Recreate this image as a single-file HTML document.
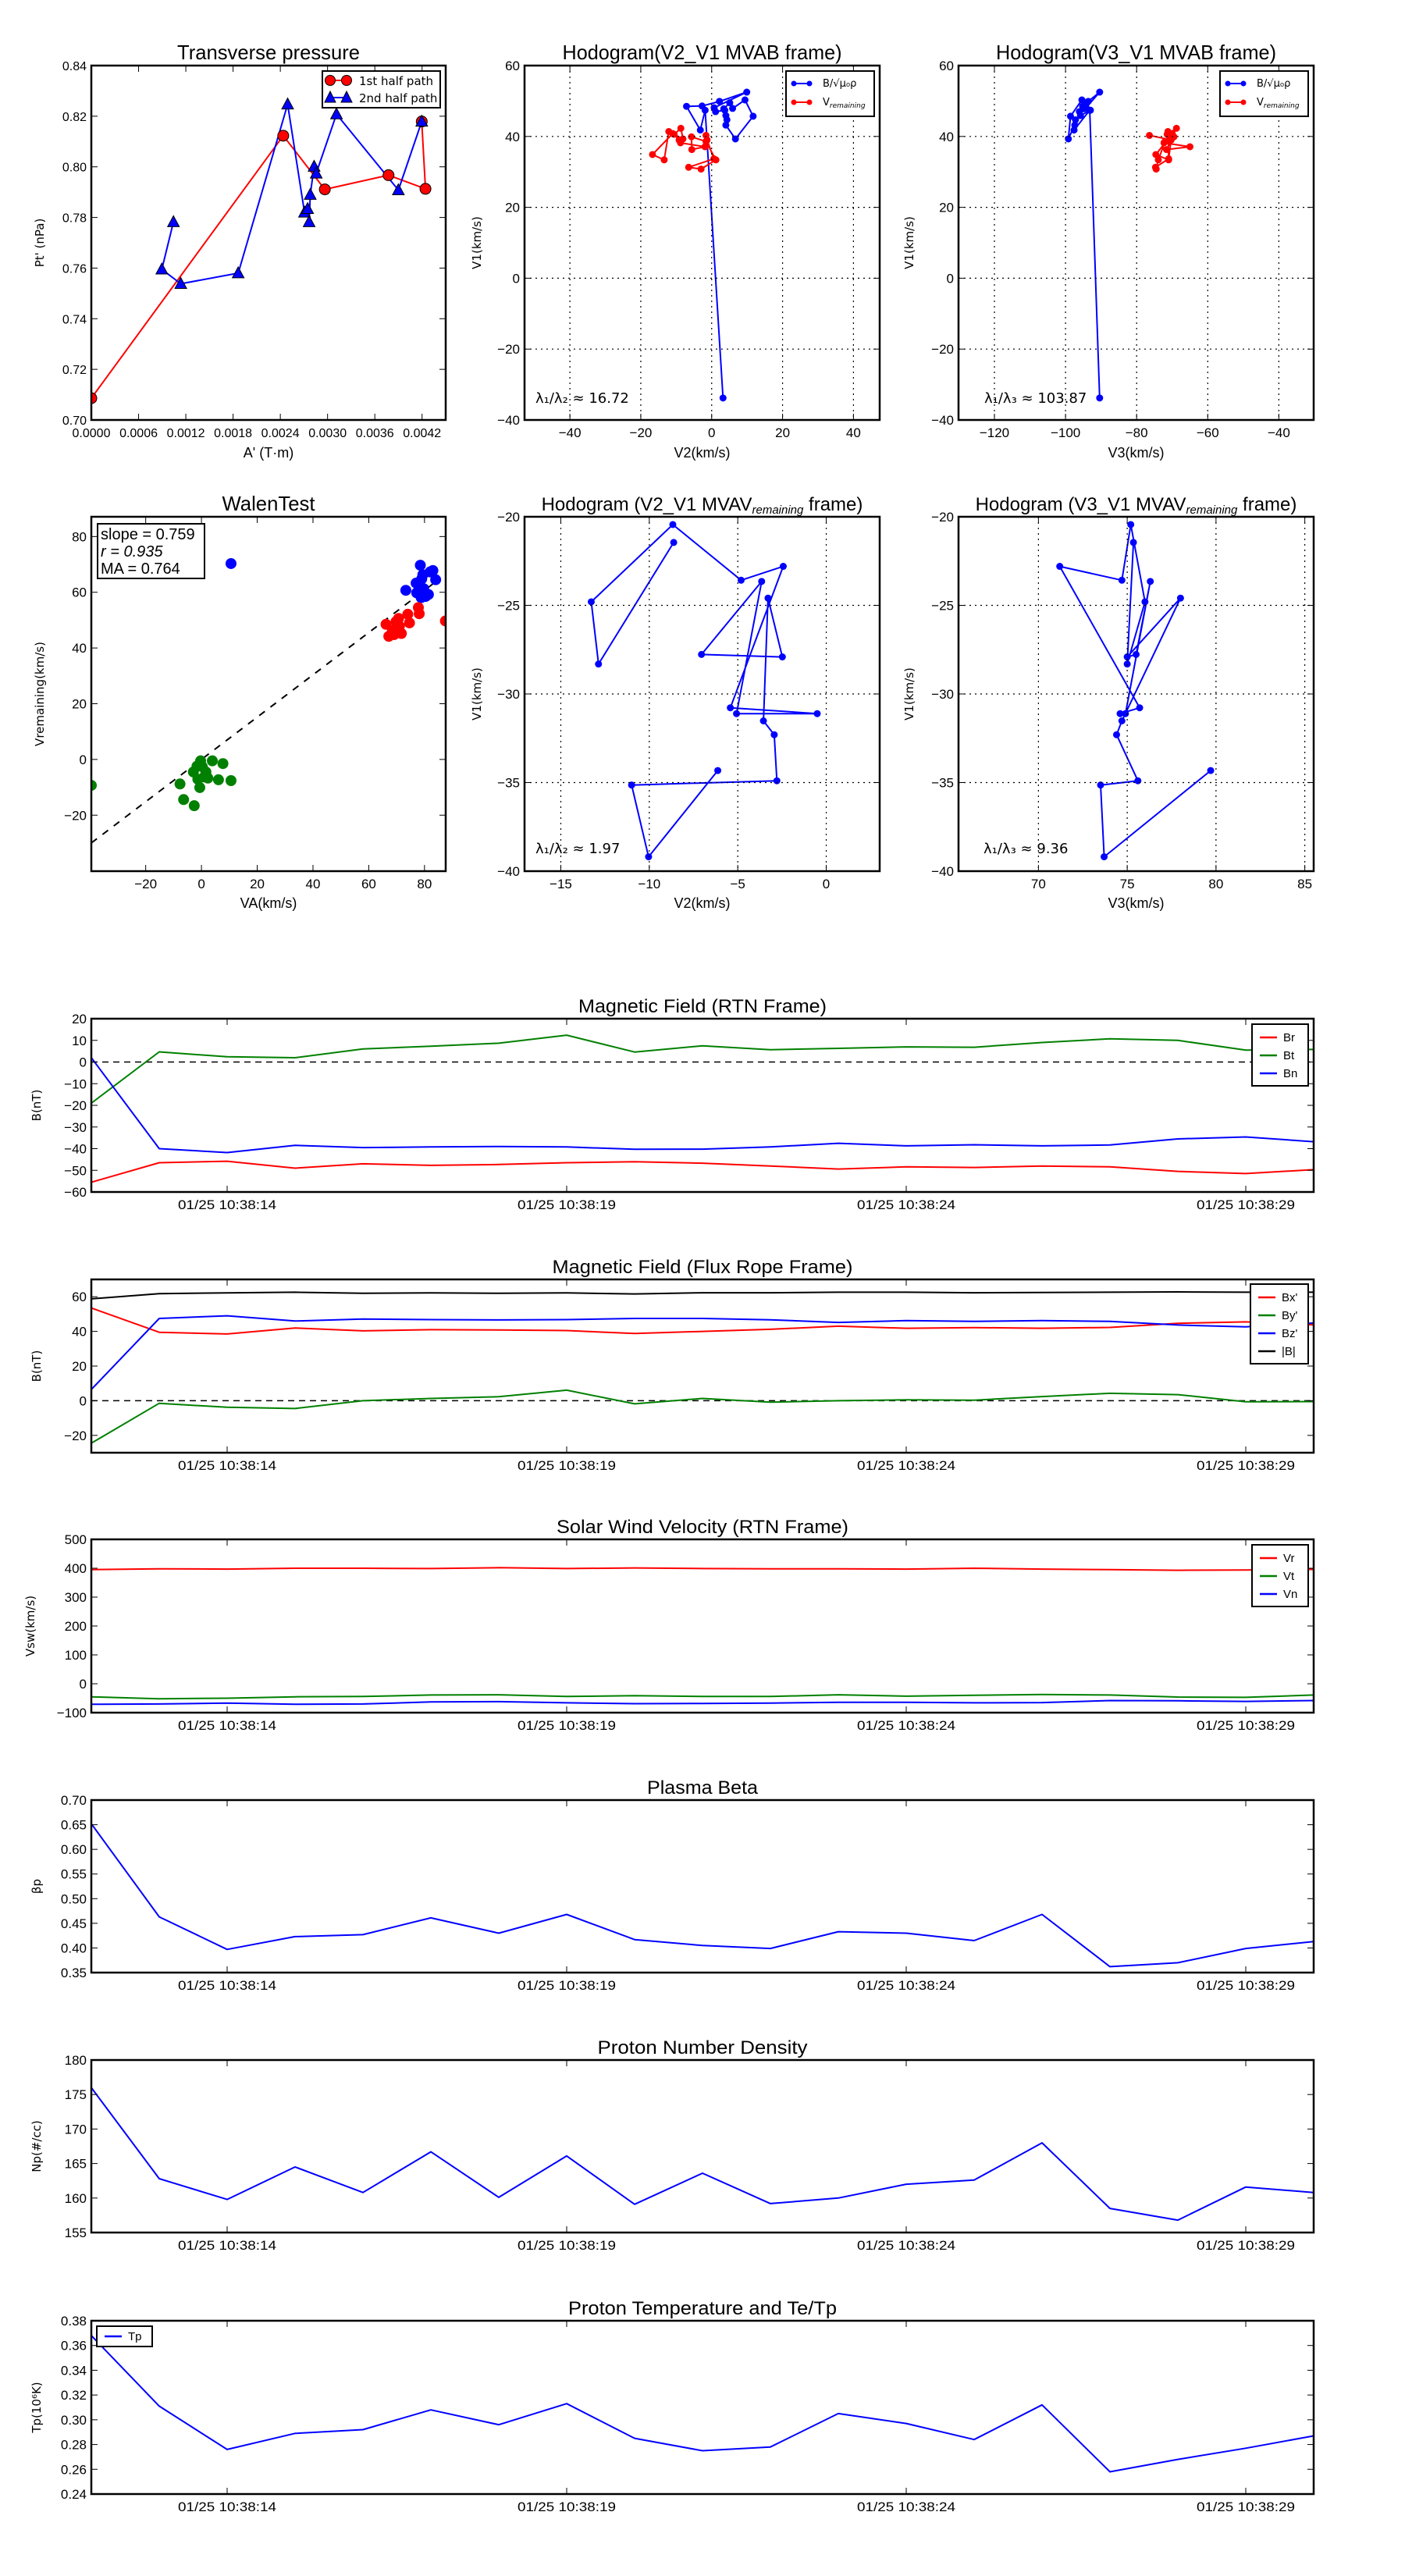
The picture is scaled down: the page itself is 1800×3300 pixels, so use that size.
<!DOCTYPE html>
<html><head><meta charset="utf-8"><title>Flux rope analysis</title>
<style>
html,body{margin:0;padding:0;background:#fff;}
svg{display:block;}
.t{font-family:"Liberation Sans Narrow","Liberation Sans",sans-serif;fill:#000;}
.d{font-family:"DejaVu Sans","Liberation Sans",sans-serif;fill:#000;}
</style></head>
<body>
<svg id="fig" width="1800" height="3300" viewBox="0 0 1800 3300" xmlns="http://www.w3.org/2000/svg"></svg>
<script>
// ---- data: transverse pressure ----
const tpRedA=[0,0.002437,0.002965,0.003774,0.004243,0.004196];
const tpRedP=[0.7086,0.8123,0.7911,0.7967,0.7913,0.8179];
const tpBlueA=[0.001043,0.000895,0.001136,0.001865,0.002493,0.002707,0.002747,0.002766,0.00278,0.002829,0.002856,0.003113,0.003899,0.004196];
const tpBlueP=[0.7782,0.7595,0.7538,0.7580,0.8247,0.7820,0.7834,0.7782,0.7890,0.8001,0.7974,0.8208,0.7908,0.8179];
// ---- hodogram MVAB ----
const hbV1=[-33.8,47.4,41.8,48.5,48.6,49.9,52.5,48.1,47.0,47.4,45.9,44.7,43.2,39.3,45.7,50.3,47.9,49.5,47.8];
const hbV2=[3.2,-1.85,-3.2,-7.1,-2.7,2.2,9.9,0.7,1.1,3.7,4.0,4.3,4.0,6.7,11.7,9.4,5.9,5.1,3.4];
const hbV3=[-90.4,-93.2,-97.6,-95.2,-94.7,-93.6,-90.4,-94.2,-96.1,-93.0,-95.8,-97.2,-97.4,-99.2,-98.6,-95.4,-94.5,-94.0,-95.0];
const hrV1=[40.3,39.0,33.7,31.3,30.8,33.4,38.6,39.9,36.3,37.1,38.2,39.0,40.6,42.3,39.3,41.4,33.4,34.9,40.8];
const hrV2=[-1.6,-1.3,0.6,-6.5,-3.0,1.2,-1.6,-5.7,-5.6,-1.9,-8.8,-9.2,-10.6,-8.7,-8.1,-12.1,-13.4,-16.7,-11.0];
const hrV3=[-76.4,-70.3,-71.0,-74.7,-74.5,-73.9,-72.0,-69.5,-71.6,-65.0,-72.3,-70.9,-71.4,-68.8,-70.5,-71.2,-71.0,-74.6,-70.0];
// ---- hodogram MVAV ----
const hvV1=[-21.45,-28.31,-24.80,-20.44,-23.58,-22.80,-30.78,-31.11,-31.11,-23.65,-27.77,-27.91,-24.59,-31.52,-32.30,-34.90,-35.14,-39.19,-34.32];
const hvV2=[-8.62,-12.87,-13.28,-8.67,-4.81,-2.43,-5.42,-0.51,-5.07,-3.65,-7.05,-2.48,-3.29,-3.55,-2.94,-2.79,-11.0,-10.04,-6.13];
const hvV3=[75.35,75.0,76.0,75.2,74.7,71.2,75.7,74.6,74.9,76.3,75.5,75.0,78.0,74.7,74.4,75.6,73.5,73.7,79.7];
// ---- Walen test ----
const wBlueX=[10.6,78.5,82,83,79,84,77,79.7,73.3,77.2,80.4,78.8,81.4,79.4];
const wBlueY=[70.3,69.7,67.3,67.8,64.8,64.5,63.3,61.3,60.7,59.8,58.5,58.1,59.2,66.3];
const wRedX=[87.5,66.2,69.8,71,68.5,67.2,71.7,74,77.8,78.1,74.6,70.7,69.1];
const wRedY=[49.7,48.5,49.5,47.8,46.3,44.2,45.2,52.1,54.5,52.3,49,50.6,44.8];
const wGreenX=[-39.5,-7.7,-6.4,-2.6,-2.9,-1.6,-0.3,0.3,-1.3,-0.6,1,2.3,3.9,6.1,7.7,10.6,1.6];
const wGreenY=[-9.3,-8.8,-14.4,-16.6,-4.5,-2.4,-0.5,-2.6,-7.1,-10.1,-6.3,-6.7,-0.5,-7.3,-1.5,-7.6,-4.5];
const walenSlope=0.759;
// ---- time series (seconds after 10:38:12) ----
const tSec=[0,1,2,3,4,5,6,7,8,9,10,11,12,13,14,15,16,17,18];
const timeTickSec=[2,7,12,17];
const timeTickLabels=["01/25 10:38:14","01/25 10:38:19","01/25 10:38:24","01/25 10:38:29"];
const Br=[-55.5,-46.5,-45.8,-49,-47,-47.7,-47.3,-46.5,-46,-46.7,-48,-49.4,-48.4,-48.7,-48,-48.4,-50.5,-51.5,-49.7];
const Bt=[-19,4.7,2.4,2,6,7.3,8.7,12.4,4.6,7.5,5.7,6.3,7,6.8,9,10.7,10,5.5,5.8];
const Bn=[2,-40,-41.8,-38.5,-39.5,-39.2,-39,-39.2,-40.3,-40.2,-39.2,-37.5,-38.7,-38.2,-38.7,-38.3,-35.5,-34.6,-36.8];
const Bx=[53.5,39.5,38.5,42,40.3,41,40.8,40.5,38.8,40,41.2,43,41.8,42.2,41.8,42.3,44.7,45.5,43.8];
const By=[-24.5,-1.5,-3.8,-4.5,0,1.3,2.3,6.1,-1.8,1.3,-0.8,0,0.5,0.3,2.4,4.3,3.5,-0.6,-0.5];
const Bz=[6.5,47.5,49,46,47.1,46.8,46.6,46.8,47.5,47.5,46.7,45.2,46.2,45.8,46.2,45.8,43.7,42.6,44.8];
const Bmag=[58.8,61.8,62.2,62.6,62,62.2,62,62.2,61.6,62.3,62.3,62.6,62.6,62.3,62.5,62.6,62.8,62.6,62.6];
const Vr=[395,398,397,400,400,399,402,399,401,399,398,398,397,400,397,395,393,394,396];
const Vt=[-45,-52,-50,-45,-44,-39,-38,-44,-41,-44,-44,-38,-43,-40,-37,-39,-46,-47,-39];
const Vn=[-71,-70,-67,-71,-70,-63,-62,-66,-69,-68,-67,-64,-64,-66,-65,-58,-59,-61,-58];
const beta=[0.652,0.463,0.397,0.423,0.427,0.461,0.430,0.468,0.417,0.405,0.399,0.433,0.430,0.415,0.468,0.362,0.370,0.399,0.413];
const Np=[176,162.8,159.8,164.5,160.8,166.7,160.1,166.1,159.1,163.6,159.2,160,162,162.6,168,158.5,156.8,161.6,160.8];
const Tp=[0.368,0.311,0.276,0.289,0.292,0.308,0.296,0.313,0.285,0.275,0.278,0.305,0.297,0.284,0.312,0.258,0.268,0.277,0.287];

const NS="http://www.w3.org/2000/svg";
const fig=document.getElementById('fig');
function mk(tag,attrs,parent,name,inter){
  const el=document.createElementNS(NS,tag);
  for(const k in attrs) el.setAttribute(k,attrs[k]);
  
  
  (parent||fig).appendChild(el);
  return el;
}
function txt(x,y,s,cls,size,anchor,parent,name,extra){
  const a={x:x,y:y,'font-size':size,'text-anchor':anchor||'middle','class':cls};
  if(extra) for(const k in extra) a[k]=extra[k];
  const el=mk('text',a,parent,name,false);
  el.textContent=s;
  return el;
}
function fit(len){return {textLength:len,lengthAdjust:'spacingAndGlyphs'};}
function axes(o){
  const g=mk('g',{},fig,o.name,false);
  o.g=g;
  o.sx=v=>o.x0+(v-o.xmin)/(o.xmax-o.xmin)*(o.x1-o.x0);
  o.sy=v=>o.y1-(v-o.ymin)/(o.ymax-o.ymin)*(o.y1-o.y0);
  const cid='clip-'+o.name;
  const cp=mk('clipPath',{id:cid},g,'clip-region',false);
  mk('rect',{x:o.x0,y:o.y0,width:o.x1-o.x0,height:o.y1-o.y0},cp,'clip-rect',false);
  o.plot=mk('g',{'clip-path':'url(#'+cid+')'},g,'plot-area',false);
  if(o.grid){
    o.xticks.forEach(v=>{const x=o.sx(v);mk('line',{x1:x,x2:x,y1:o.y0,y2:o.y1,stroke:'#000','stroke-width':1.2,'stroke-dasharray':'2,5'},g,'x-grid-line',false);});
    o.yticks.forEach(v=>{const y=o.sy(v);mk('line',{x1:o.x0,x2:o.x1,y1:y,y2:y,stroke:'#000','stroke-width':1.2,'stroke-dasharray':'2,5'},g,'y-grid-line',false);});
  }
  const L=8;
  o.xticks.forEach((v,i)=>{const x=o.sx(v);
    mk('line',{x1:x,x2:x,y1:o.y1,y2:o.y1-L,stroke:'#000','stroke-width':1},g,'x-tick',false);
    mk('line',{x1:x,x2:x,y1:o.y0,y2:o.y0+L,stroke:'#000','stroke-width':1},g,'x-tick-top',false);
    txt(x,o.y1+22,o.xlabels?o.xlabels[i]:o.xfmt(v),'t',o.tfs||17,'middle',g,'x-tick-label',o.xlabels?fit(126):null);
  });
  o.yticks.forEach(v=>{const y=o.sy(v);
    mk('line',{x1:o.x0,x2:o.x0+L,y1:y,y2:y,stroke:'#000','stroke-width':1},g,'y-tick',false);
    mk('line',{x1:o.x1,x2:o.x1-L,y1:y,y2:y,stroke:'#000','stroke-width':1},g,'y-tick-right',false);
    txt(o.x0-6,y+6,o.yfmt(v),'t',o.tfs||17,'end',g,'y-tick-label');
  });
  mk('rect',{x:o.x0,y:o.y0,width:o.x1-o.x0,height:o.y1-o.y0,fill:'none',stroke:'#000','stroke-width':2.5},g,'axes-frame',false);
  const tt=txt((o.x0+o.x1)/2,o.y0-8,o.title,'t',o.titleSize||26,'middle',g,'chart-title',o.titleLen?fit(o.titleLen):null);
  if(o.sub){const s=document.createElementNS(NS,'tspan');s.setAttribute('font-size','15');s.setAttribute('font-style','italic');s.setAttribute('dy','4');s.textContent=o.sub;tt.appendChild(s);
    const s2=document.createElementNS(NS,'tspan');s2.setAttribute('dy','-4');s2.textContent=o.subAfter;tt.appendChild(s2);}
  if(o.xlabel) txt((o.x0+o.x1)/2,o.xly,o.xlabel,'t',18,'middle',g,'x-axis-title');
  if(o.ylabel){const yc=(o.y0+o.y1)/2;txt(o.ylx,yc,o.ylabel,o.ylcls||'d',o.ylfs||15,'middle',g,'y-axis-title',{transform:'rotate(-90 '+o.ylx+' '+yc+')'});}
  return o;
}
function polyline(o,xs,ys,color,name,w){
  const pts=xs.map((x,i)=>o.sx(x).toFixed(1)+','+o.sy(ys[i]).toFixed(1)).join(' ');
  return mk('polyline',{points:pts,fill:'none',stroke:color,'stroke-width':w||2,'stroke-linejoin':'round'},o.plot,name,false);
}
function dots(o,xs,ys,color,r,name,edge){
  xs.forEach((x,i)=>{mk('circle',{cx:o.sx(x),cy:o.sy(ys[i]),r:r,fill:color,stroke:edge||color,'stroke-width':1},o.plot,name,false);});
}
function tri(o,xs,ys,color,name){
  xs.forEach((x,i)=>{const cx=o.sx(x),cy=o.sy(ys[i]);
    mk('polygon',{points:(cx)+','+(cy-8)+' '+(cx-7.5)+','+(cy+6)+' '+(cx+7.5)+','+(cy+6),fill:color,stroke:'#000','stroke-width':1},o.plot,name,false);});
}
function range(a,b,s){const r=[];for(let v=a;v<=b+1e-9;v+=s)r.push(+v.toFixed(6));return r;}

// ===== Row 1 =====
const tp=axes({name:'transverse-pressure-chart',x0:117,x1:571,y0:84,y1:538,xmin:0,xmax:0.0045,ymin:0.70,ymax:0.84,
  xticks:range(0,0.0042,0.0006),yticks:range(0.70,0.84,0.02),xfmt:v=>v.toFixed(4),yfmt:v=>v.toFixed(2),
  title:'Transverse pressure',titleLen:234,xlabel:"A' (T·m)",xly:586,ylabel:"Pt' (nPa)",ylx:56,tfs:16});
polyline(tp,tpRedA,tpRedP,'#ff0000','first-half-line');
polyline(tp,tpBlueA,tpBlueP,'#0000ff','second-half-line');
dots(tp,tpRedA,tpRedP,'#ff0000',7,'first-half-point','#000');
tri(tp,tpBlueA,tpBlueP,'#0000ff','second-half-point');
(function(){const g=mk('g',{},tp.g,'legend',false);
 mk('rect',{x:413,y:91,width:151,height:47,fill:'#fff',stroke:'#000','stroke-width':2},g,'legend-frame',false);
 mk('line',{x1:423,x2:444,y1:103,y2:103,stroke:'#f00','stroke-width':2},g,'legend-line-red',false);
 mk('circle',{cx:423,cy:103,r:6.5,fill:'#f00',stroke:'#000'},g,'legend-marker',false);
 mk('circle',{cx:444,cy:103,r:6.5,fill:'#f00',stroke:'#000'},g,'legend-marker',false);
 txt(460,109,'1st half path','d',15,'start',g,'legend-entry');
 mk('line',{x1:423,x2:444,y1:125,y2:125,stroke:'#00f','stroke-width':2},g,'legend-line-blue',false);
 mk('polygon',{points:'423,117 416,131 430,131',fill:'#00f',stroke:'#000'},g,'legend-marker',false);
 mk('polygon',{points:'444,117 437,131 451,131',fill:'#00f',stroke:'#000'},g,'legend-marker',false);
 txt(460,131,'2nd half path','d',15,'start',g,'legend-entry');})();

function hodoLegend(ax,x){
 const g=mk('g',{},ax.g,'legend',false);
 mk('rect',{x:x,y:91,width:113,height:58,fill:'#fff',stroke:'#000','stroke-width':2},g,'legend-frame',false);
 mk('line',{x1:x+10,x2:x+30,y1:107,y2:107,stroke:'#00f','stroke-width':2},g,'legend-line-blue',false);
 mk('circle',{cx:x+10,cy:107,r:3.5,fill:'#00f'},g,'legend-marker',false);
 mk('circle',{cx:x+30,cy:107,r:3.5,fill:'#00f'},g,'legend-marker',false);
 txt(x+47,111,'B/√μ₀ρ','d',13,'start',g,'legend-entry');
 mk('line',{x1:x+10,x2:x+30,y1:131,y2:131,stroke:'#f00','stroke-width':2},g,'legend-line-red',false);
 mk('circle',{cx:x+10,cy:131,r:3.5,fill:'#f00'},g,'legend-marker',false);
 mk('circle',{cx:x+30,cy:131,r:3.5,fill:'#f00'},g,'legend-marker',false);
 const t=txt(x+47,135,'V','d',13,'start',g,'legend-entry');
 const s=document.createElementNS(NS,'tspan');s.setAttribute('font-size','9');s.setAttribute('font-style','italic');s.setAttribute('dy','3');s.textContent='remaining';t.appendChild(s);
}
const h1=axes({name:'hodogram-v2-v1-mvab',x0:672,x1:1127,y0:84,y1:538,xmin:-52.8,xmax:47.4,ymin:-40,ymax:60,grid:true,
  xticks:range(-40,40,20),yticks:range(-40,60,20),xfmt:v=>v.toFixed(0).replace('-','−'),yfmt:v=>v.toFixed(0).replace('-','−'),
  title:'Hodogram(V2_V1 MVAB frame)',titleLen:358,xlabel:'V2(km/s)',xly:586,ylabel:'V1(km/s)',ylx:616});
polyline(h1,hbV2,hbV1,'#0000ff','b-hodogram-line');dots(h1,hbV2,hbV1,'#0000ff',4,'b-hodogram-point');
polyline(h1,hrV2,hrV1,'#ff0000','v-hodogram-line');dots(h1,hrV2,hrV1,'#ff0000',4,'v-hodogram-point');
hodoLegend(h1,1007);
txt(686,516,'λ₁/λ₂ ≈ 16.72','d',18,'start',h1.g,'eigenvalue-ratio');

const h2=axes({name:'hodogram-v3-v1-mvab',x0:1228,x1:1683,y0:84,y1:538,xmin:-130.1,xmax:-30.2,ymin:-40,ymax:60,grid:true,
  xticks:range(-120,-40,20),yticks:range(-40,60,20),xfmt:v=>v.toFixed(0).replace('-','−'),yfmt:v=>v.toFixed(0).replace('-','−'),
  title:'Hodogram(V3_V1 MVAB frame)',titleLen:359,xlabel:'V3(km/s)',xly:586,ylabel:'V1(km/s)',ylx:1170});
polyline(h2,hbV3,hbV1,'#0000ff','b-hodogram-line');dots(h2,hbV3,hbV1,'#0000ff',4,'b-hodogram-point');
polyline(h2,hrV3,hrV1,'#ff0000','v-hodogram-line');dots(h2,hrV3,hrV1,'#ff0000',4,'v-hodogram-point');
hodoLegend(h2,1563);
txt(1261,516,'λ₁/λ₃ ≈ 103.87','d',18,'start',h2.g,'eigenvalue-ratio');

// ===== Row 2 =====
const wt=axes({name:'walen-test-chart',x0:117,x1:571,y0:662,y1:1116,xmin:-39.5,xmax:87.6,ymin:-40.1,ymax:87.1,
  xticks:range(-20,80,20),yticks:range(-20,80,20),xfmt:v=>v.toFixed(0).replace('-','−'),yfmt:v=>v.toFixed(0).replace('-','−'),
  title:'WalenTest',titleLen:119,xlabel:'VA(km/s)',xly:1163,ylabel:'Vremaining(km/s)',ylx:56});
mk('line',{x1:wt.sx(wt.xmin),y1:wt.sy(walenSlope*wt.xmin),x2:wt.sx(85),y2:wt.sy(walenSlope*85),stroke:'#000','stroke-width':2,'stroke-dasharray':'9,9'},wt.plot,'fit-line',false);
dots(wt,wBlueX,wBlueY,'#0000ff',6.5,'walen-point-blue');
dots(wt,wRedX,wRedY,'#ff0000',6.5,'walen-point-red');
dots(wt,wGreenX,wGreenY,'#008000',6.5,'walen-point-green');
(function(){const g=mk('g',{},wt.g,'stats-box',false);
 mk('rect',{x:125,y:671,width:137,height:70,fill:'#fff',stroke:'#000','stroke-width':2},g,'stats-frame',false);
 txt(129,691,'slope = 0.759','t',20,'start',g,'slope-text');
 txt(129,713,'r = 0.935','t',20,'start',g,'r-text',{'font-style':'italic'});
 txt(129,735,'MA = 0.764','t',20,'start',g,'ma-text');})();

const h3=axes({name:'hodogram-v2-v1-mvav',x0:672,x1:1127,y0:662,y1:1116,xmin:-17.05,xmax:3.02,ymin:-40,ymax:-20,grid:true,
  xticks:range(-15,0,5),yticks:range(-40,-20,5),xfmt:v=>v.toFixed(0).replace('-','−'),yfmt:v=>v.toFixed(0).replace('-','−'),
  title:'Hodogram (V2_V1 MVAV',sub:'remaining',subAfter:' frame)',titleSize:24,xlabel:'V2(km/s)',xly:1163,ylabel:'V1(km/s)',ylx:616});
polyline(h3,hvV2,hvV1,'#0000ff','v-hodogram-line');dots(h3,hvV2,hvV1,'#0000ff',4,'v-hodogram-point');
txt(686,1093,'λ₁/λ₂ ≈ 1.97','d',18,'start',h3.g,'eigenvalue-ratio');

const h4=axes({name:'hodogram-v3-v1-mvav',x0:1228,x1:1683,y0:662,y1:1116,xmin:65.5,xmax:85.5,ymin:-40,ymax:-20,grid:true,
  xticks:range(70,85,5),yticks:range(-40,-20,5),xfmt:v=>v.toFixed(0),yfmt:v=>v.toFixed(0).replace('-','−'),
  title:'Hodogram (V3_V1 MVAV',sub:'remaining',subAfter:' frame)',titleSize:24,xlabel:'V3(km/s)',xly:1163,ylabel:'V1(km/s)',ylx:1170});
polyline(h4,hvV3,hvV1,'#0000ff','v-hodogram-line');dots(h4,hvV3,hvV1,'#0000ff',4,'v-hodogram-point');
txt(1260,1093,'λ₁/λ₃ ≈ 9.36','d',18,'start',h4.g,'eigenvalue-ratio');

// ===== time series =====
function ts(name,y0,y1,ymin,ymax,yt,fmt,title,tl,ylabel,ylx){
  return axes({name:name,x0:117,x1:1683,y0:y0,y1:y1,xmin:0,xmax:18,ymin:ymin,ymax:ymax,
   xticks:timeTickSec,xlabels:timeTickLabels,yticks:yt,xfmt:v=>'',yfmt:fmt,
   title:title,titleLen:tl,titleSize:24,ylabel:ylabel,ylx:ylx,tfs:17});
}
function tsLegend(ax,x,y,names,colors,w){
  const g=mk('g',{},ax.g,'legend',false);
  mk('rect',{x:x,y:y,width:w,height:names.length*23+10,fill:'#fff',stroke:'#000','stroke-width':2},g,'legend-frame',false);
  names.forEach((n,i)=>{const yy=y+17+i*23;
    mk('line',{x1:x+10,x2:x+32,y1:yy,y2:yy,stroke:colors[i],'stroke-width':2.5},g,'legend-line',false);
    txt(x+40,yy+5,n,'t',15,'start',g,'legend-entry');});
}
const fm=v=>String(v).replace('-','−');
const ax1=ts('magnetic-field-rtn-chart',1305,1527,-60,20,range(-60,20,10),fm,'Magnetic Field (RTN Frame)',318,'B(nT)',52);
mk('line',{x1:117,x2:1683,y1:ax1.sy(0),y2:ax1.sy(0),stroke:'#000','stroke-width':1.5,'stroke-dasharray':'8,6'},ax1.plot,'zero-line',false);
polyline(ax1,tSec,Br,'#ff0000','br-line');polyline(ax1,tSec,Bt,'#008000','bt-line');polyline(ax1,tSec,Bn,'#0000ff','bn-line');
tsLegend(ax1,1604,1312,['Br','Bt','Bn'],['#f00','#008000','#00f'],72);

const ax2=ts('magnetic-field-flux-rope-chart',1639,1861,-30,70,range(-20,60,20),fm,'Magnetic Field (Flux Rope Frame)',385,'B(nT)',52);
mk('line',{x1:117,x2:1683,y1:ax2.sy(0),y2:ax2.sy(0),stroke:'#000','stroke-width':1.5,'stroke-dasharray':'8,6'},ax2.plot,'zero-line',false);
polyline(ax2,tSec,Bx,'#ff0000','bx-line');polyline(ax2,tSec,By,'#008000','by-line');polyline(ax2,tSec,Bz,'#0000ff','bz-line');polyline(ax2,tSec,Bmag,'#000000','bmag-line');
tsLegend(ax2,1602,1645,["Bx'","By'","Bz'","|B|"],['#f00','#008000','#00f','#000'],74);

const ax3=ts('solar-wind-velocity-chart',1972,2194,-100,500,range(-100,500,100),fm,'Solar Wind Velocity (RTN Frame)',374,'Vsw(km/s)',44);
polyline(ax3,tSec,Vr,'#ff0000','vr-line');polyline(ax3,tSec,Vt,'#008000','vt-line');polyline(ax3,tSec,Vn,'#0000ff','vn-line');
tsLegend(ax3,1604,1979,['Vr','Vt','Vn'],['#f00','#008000','#00f'],72);

const ax4=ts('plasma-beta-chart',2306,2527,0.35,0.70,range(0.35,0.70,0.05),v=>v.toFixed(2),'Plasma Beta',142,'βp',52);
polyline(ax4,tSec,beta,'#0000ff','beta-line');
const ax5=ts('proton-density-chart',2639,2860,155,180,range(155,180,5),v=>v.toFixed(0),'Proton Number Density',269,'Np(#/cc)',52);
polyline(ax5,tSec,Np,'#0000ff','density-line');
const ax6=ts('proton-temperature-chart',2973,3195,0.24,0.38,range(0.24,0.38,0.02),v=>v.toFixed(2),'Proton Temperature and Te/Tp',344,'Tp(10⁶K)',52);
polyline(ax6,tSec,Tp,'#0000ff','tp-line');
(function(){const g=mk('g',{},ax6.g,'legend',false);
 mk('rect',{x:124,y:2980,width:71,height:26,fill:'#fff',stroke:'#000','stroke-width':2},g,'legend-frame',false);
 mk('line',{x1:134,x2:156,y1:2993,y2:2993,stroke:'#00f','stroke-width':2.5},g,'legend-line',false);
 txt(164,2998,'Tp','t',15,'start',g,'legend-entry');})();
</script>
</body></html>
